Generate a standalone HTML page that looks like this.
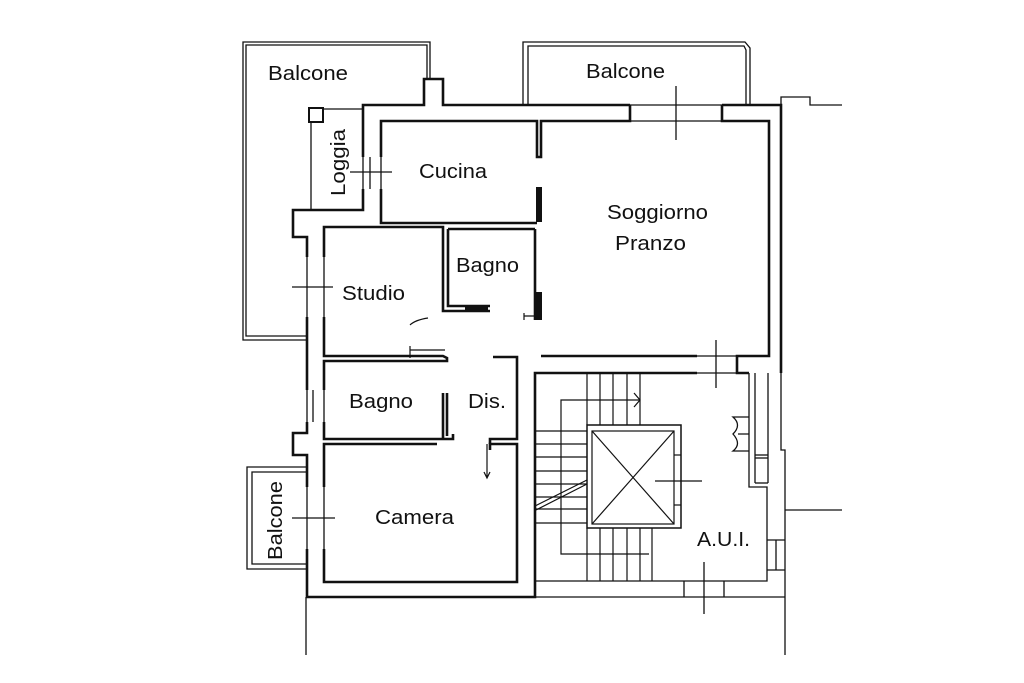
<!DOCTYPE html>
<html><head><meta charset="utf-8"><style>
html,body{margin:0;padding:0;background:#fff}
svg{display:block}
text{font-family:"Liberation Sans",sans-serif;font-size:20px;fill:#111}
</style></head><body>
<svg width="1024" height="683" viewBox="0 0 1024 683" xmlns="http://www.w3.org/2000/svg">
<g fill="none" stroke="#111" stroke-width="1.3">
<!-- left balcony -->
<polyline points="306,340 243,340 243,42 430,42 430,79"/>
<polyline points="306,336 246,336 246,45 427,45 427,79"/>
<!-- top right balcony -->
<polyline points="523,105 523,42 745,42 750,48 750,105"/>
<polyline points="528,105 528,46 744,46 746,50 746,105"/>
<!-- loggia -->
<rect x="309" y="108" width="14" height="14" stroke-width="2"/>
<line x1="311" y1="122" x2="311" y2="210"/>
<line x1="323" y1="109" x2="363" y2="109"/>
<!-- small left balcony -->
<polyline points="306,467 247,467 247,569 306,569"/>
<polyline points="306,472 252,472 252,564 306,564"/>
<!-- windows -->
<line x1="630" y1="105" x2="722" y2="105"/><line x1="630" y1="121" x2="722" y2="121"/>
<line x1="697" y1="356" x2="737" y2="356"/><line x1="697" y1="373" x2="737" y2="373"/>
<line x1="363" y1="157" x2="363" y2="189"/><line x1="370" y1="157" x2="370" y2="189"/><line x1="381" y1="157" x2="381" y2="189"/>
<line x1="307" y1="257" x2="307" y2="317"/><line x1="324" y1="257" x2="324" y2="317"/>
<line x1="307" y1="390" x2="307" y2="422"/><line x1="313" y1="390" x2="313" y2="422"/><line x1="324" y1="390" x2="324" y2="422"/>
<line x1="307" y1="487" x2="307" y2="549"/><line x1="324" y1="487" x2="324" y2="549"/>
<!-- cross marks -->
<line x1="350" y1="172" x2="392" y2="172"/>
<line x1="292" y1="287" x2="333" y2="287"/>
<line x1="292" y1="518" x2="335" y2="518"/>
<line x1="676" y1="86" x2="676" y2="140"/>
<line x1="716" y1="340" x2="716" y2="388"/>
<line x1="704" y1="562" x2="704" y2="614"/>
<line x1="655" y1="481" x2="702" y2="481"/>
<!-- top right outside -->
<polyline points="781,105 781,97 810,97 810,105 842,105"/>
<!-- stair -->
<g stroke-width="1.2">
<line x1="587" y1="373" x2="587" y2="425"/><line x1="600" y1="373" x2="600" y2="425"/><line x1="613" y1="373" x2="613" y2="425"/><line x1="627" y1="373" x2="627" y2="425"/><line x1="640" y1="373" x2="640" y2="425"/>
<line x1="600" y1="528" x2="600" y2="581"/><line x1="613" y1="528" x2="613" y2="581"/><line x1="627" y1="528" x2="627" y2="581"/><line x1="640" y1="528" x2="640" y2="581"/><line x1="652" y1="528" x2="652" y2="581"/><line x1="587" y1="528" x2="587" y2="581"/>
<line x1="535" y1="431" x2="587" y2="431"/><line x1="535" y1="444" x2="587" y2="444"/><line x1="535" y1="457" x2="587" y2="457"/><line x1="535" y1="471" x2="587" y2="471"/><line x1="535" y1="484" x2="587" y2="484"/><line x1="535" y1="497" x2="587" y2="497"/><line x1="535" y1="509" x2="587" y2="509"/><line x1="535" y1="523" x2="587" y2="523"/>
<polyline points="640,400 561,400 561,554 649,554"/>
<polyline points="634,393 640,400 634,407"/>
<line x1="535" y1="506" x2="587" y2="480"/><line x1="536" y1="510" x2="587" y2="484"/>
<rect x="587" y="425" width="94" height="103" stroke-width="1.5"/>
<rect x="592" y="431" width="82" height="93"/>
<line x1="592" y1="431" x2="674" y2="524"/><line x1="674" y1="431" x2="592" y2="524"/>
<line x1="674" y1="455" x2="681" y2="455"/><line x1="674" y1="505" x2="681" y2="505"/>
</g>
<!-- A.U.I. boundaries -->
<polyline points="535,581 767,581 767,487 749,487 749,373"/>
<line x1="535" y1="597" x2="785" y2="597"/>
<line x1="684" y1="581" x2="684" y2="597"/><line x1="724" y1="581" x2="724" y2="597"/>
<line x1="755" y1="373" x2="755" y2="483"/><line x1="768" y1="373" x2="768" y2="483"/>
<line x1="755" y1="455" x2="768" y2="455"/><line x1="755" y1="458" x2="768" y2="458"/><line x1="755" y1="483" x2="768" y2="483"/>
<polyline points="781,373 781,450 785,450 785,655"/>
<line x1="767" y1="540" x2="785" y2="540"/><line x1="767" y1="570" x2="785" y2="570"/><line x1="776" y1="540" x2="776" y2="570"/>
<line x1="785" y1="510" x2="842" y2="510"/>
<line x1="306" y1="597" x2="306" y2="655"/>
<path d="M749,417 L733,417 Q742,425 733,434 Q742,444 733,451 L749,451 M749,434 L738,434"/>
</g>
<!-- walls -->
<g fill="none" stroke="#111" stroke-width="2.6" stroke-linejoin="miter">
<polyline points="363,157 363,105 424,105 424,79 443,79 443,105 630,105"/>
<polyline points="722,105 781,105 781,373"/>
<polyline points="722,105 722,121 769,121 769,356 737,356 737,373 749,373"/>
<polyline points="630,105 630,121 541,121 541,157 537,157 537,121 381,121 381,157"/>
<polyline points="381,189 381,223 537,223"/>
<polyline points="363,189 363,210 293,210 293,237 307,237 307,257"/>
<polyline points="324,257 324,227 443,227 443,311 490,311"/>
<polyline points="448,229 535,229"/>
<polyline points="448,229 448,306 490,306"/>
<polyline points="307,317 307,390"/>
<polyline points="324,317 324,356 443,356 447,358 447,361 324,361 324,390"/>
<polyline points="307,422 307,433 293,433 293,455 307,455 307,487"/>
<polyline points="324,422 324,439 453,439 453,434"/>
<line x1="443" y1="393" x2="443" y2="439"/><line x1="447" y1="393" x2="447" y2="436"/>
<polyline points="324,487 324,444 437,444"/>
<polyline points="307,549 307,597 535,597 535,373 697,373"/>
<polyline points="324,549 324,582 517,582 517,444 490,444 490,450"/>
<polyline points="493,357 517,357 517,439 490,439 490,444"/>
<polyline points="541,356 697,356"/>
<polyline points="535,229 535,320"/>
</g>
<g stroke="#111" stroke-width="6">
<line x1="539" y1="187" x2="539" y2="222"/><line x1="539" y1="292" x2="539" y2="320"/>
<line x1="465" y1="309" x2="488" y2="309"/>
</g>
<g fill="none" stroke="#111" stroke-width="1.2">
<path d="M410,358 L410,346 M410,350 L445,350 M428,318 Q415,320 410,325"/>
<path d="M487,444 L487,478 M484,472 L487,478 L490,472"/>
<path d="M524,316 L534,316 M524,313 L524,320"/>
</g>
<!-- labels -->
<text x="268" y="80" textLength="80" lengthAdjust="spacingAndGlyphs">Balcone</text>
<text x="586" y="78" textLength="79" lengthAdjust="spacingAndGlyphs">Balcone</text>
<text x="419" y="178" textLength="68" lengthAdjust="spacingAndGlyphs">Cucina</text>
<text x="607" y="219" textLength="101" lengthAdjust="spacingAndGlyphs">Soggiorno</text>
<text x="615" y="250" textLength="71" lengthAdjust="spacingAndGlyphs">Pranzo</text>
<text x="456" y="272" textLength="63" lengthAdjust="spacingAndGlyphs">Bagno</text>
<text x="342" y="300" textLength="63" lengthAdjust="spacingAndGlyphs">Studio</text>
<text x="349" y="408" textLength="64" lengthAdjust="spacingAndGlyphs">Bagno</text>
<text x="468" y="408" textLength="38" lengthAdjust="spacingAndGlyphs">Dis.</text>
<text x="375" y="524" textLength="79" lengthAdjust="spacingAndGlyphs">Camera</text>
<text x="697" y="546" textLength="53" lengthAdjust="spacingAndGlyphs">A.U.I.</text>
<text transform="translate(345,196) rotate(-90)" textLength="67" lengthAdjust="spacingAndGlyphs">Loggia</text>
<text transform="translate(282,560) rotate(-90)" textLength="79" lengthAdjust="spacingAndGlyphs">Balcone</text>
</svg>
</body></html>
